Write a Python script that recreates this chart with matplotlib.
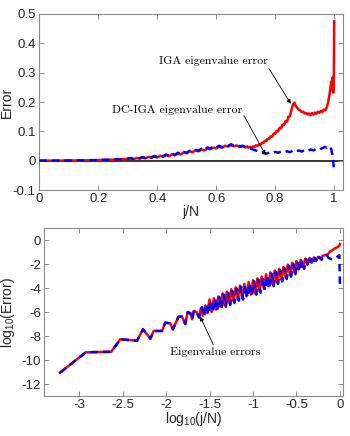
import numpy as np
import matplotlib
matplotlib.use("Agg")
import matplotlib.pyplot as plt

plt.rcParams['font.family'] = ['Liberation Sans', 'DejaVu Sans']
plt.rcParams['mathtext.fontset'] = 'custom'
plt.rcParams['mathtext.rm'] = 'Liberation Sans'
plt.rcParams['mathtext.it'] = 'Liberation Sans:italic'

# ---- top panel: error vs j/N ----
iga_x = [0.00, 0.05, 0.10, 0.15, 0.20, 0.22, 0.24, 0.26, 0.28, 0.30,
         0.31, 0.32, 0.33, 0.34, 0.35, 0.36, 0.37, 0.38, 0.39, 0.40,
         0.41, 0.42, 0.43, 0.44, 0.45, 0.46, 0.47, 0.48, 0.49, 0.50,
         0.51, 0.52, 0.53, 0.54, 0.55, 0.56, 0.57, 0.58, 0.59, 0.60,
         0.61, 0.62, 0.63, 0.64, 0.65, 0.66, 0.67, 0.68, 0.69, 0.70,
         0.705, 0.71, 0.715, 0.72, 0.725, 0.73, 0.735, 0.74, 0.745, 0.75,
         0.755, 0.76, 0.765, 0.77, 0.775, 0.78, 0.785, 0.79, 0.795, 0.80,
         0.805, 0.81, 0.815, 0.82, 0.825, 0.83, 0.835, 0.84, 0.845, 0.85,
         0.855, 0.86, 0.865, 0.87, 0.875, 0.88, 0.885, 0.89, 0.895, 0.90,
         0.905, 0.91, 0.915, 0.92, 0.925, 0.93, 0.935, 0.94, 0.945, 0.95,
         0.955, 0.96, 0.965, 0.97, 0.975, 0.98, 0.985, 0.99, 0.993, 0.995,
         0.997, 0.999, 1.0]
iga_err = [0.000, 0.0002, 0.0005, 0.001, 0.002, 0.0025, 0.003, 0.004, 0.005, 0.006,
           0.008, 0.005, 0.009, 0.007, 0.011, 0.008, 0.013, 0.010, 0.014, 0.011,
           0.017, 0.013, 0.019, 0.015, 0.022, 0.018, 0.025, 0.021, 0.028, 0.025,
           0.032, 0.029, 0.035, 0.032, 0.038, 0.035, 0.042, 0.039, 0.045, 0.042,
           0.048, 0.044, 0.051, 0.048, 0.053, 0.049, 0.052, 0.047, 0.049, 0.045,
           0.049, 0.044, 0.047, 0.045, 0.049, 0.047, 0.052, 0.050, 0.056, 0.054,
           0.061, 0.060, 0.068, 0.067, 0.075, 0.074, 0.083, 0.082, 0.092, 0.091,
           0.102, 0.100, 0.112, 0.110, 0.123, 0.121, 0.135, 0.133, 0.150, 0.152,
           0.172, 0.190, 0.198, 0.186, 0.180, 0.174, 0.171, 0.166, 0.167, 0.161,
           0.163, 0.157, 0.161, 0.155, 0.162, 0.157, 0.164, 0.160, 0.167, 0.163,
           0.170, 0.166, 0.174, 0.172, 0.182, 0.200, 0.230, 0.270, 0.240, 0.285,
           0.232, 0.290, 0.475]

dc_x = [0.00, 0.05, 0.10, 0.15, 0.20, 0.22, 0.24, 0.26, 0.28, 0.30,
        0.31, 0.32, 0.33, 0.34, 0.35, 0.36, 0.37, 0.38, 0.39, 0.40,
        0.41, 0.42, 0.43, 0.44, 0.45, 0.46, 0.47, 0.48, 0.49, 0.50,
        0.51, 0.52, 0.53, 0.54, 0.55, 0.56, 0.57, 0.58, 0.59, 0.60,
        0.61, 0.62, 0.63, 0.64, 0.65, 0.66, 0.67, 0.68, 0.69, 0.70,
        0.71, 0.72, 0.73, 0.74, 0.75, 0.76, 0.77, 0.78, 0.79, 0.80,
        0.81, 0.82, 0.83, 0.84, 0.85, 0.86, 0.87, 0.88, 0.89, 0.90,
        0.91, 0.92, 0.93, 0.94, 0.95, 0.96, 0.97, 0.975, 0.98, 0.985,
        0.99, 0.993, 0.996, 1.0]
dc_err = [0.000, 0.0002, 0.0005, 0.001, 0.002, 0.003, 0.003, 0.005, 0.005, 0.007,
          0.009, 0.006, 0.010, 0.008, 0.012, 0.009, 0.014, 0.011, 0.016, 0.013,
          0.019, 0.015, 0.021, 0.017, 0.024, 0.020, 0.027, 0.023, 0.030, 0.027,
          0.034, 0.031, 0.037, 0.034, 0.041, 0.037, 0.045, 0.041, 0.048, 0.044,
          0.051, 0.046, 0.054, 0.050, 0.056, 0.051, 0.055, 0.049, 0.051, 0.046,
          0.043, 0.040, 0.036, 0.033, 0.030, 0.026, 0.024, 0.028, 0.025, 0.030,
          0.027, 0.031, 0.028, 0.032, 0.029, 0.034, 0.030, 0.035, 0.031, 0.036,
          0.033, 0.038, 0.035, 0.041, 0.038, 0.043, 0.047, 0.044, 0.050, 0.045,
          0.040, 0.025, 0.005, -0.035]

# ---- bottom panel: log10(error) vs log10(j/N) ----
log_iga_x = [-3.22, -2.924, -2.63, -2.526, -2.334, -2.265, -2.18, -2.143, -2.047, -2.009,
             -1.952, -1.921, -1.856, -1.817, -1.78, -1.75, -1.72, -1.70, -1.68, -1.65,
             -1.62, -1.600, -1.575, -1.550, -1.525, -1.500, -1.475, -1.450, -1.425, -1.400,
             -1.375, -1.350, -1.325, -1.300, -1.275, -1.250, -1.225, -1.200, -1.175, -1.150,
             -1.125, -1.100, -1.075, -1.050, -1.025, -1.000, -0.975, -0.950, -0.925, -0.900,
             -0.875, -0.850, -0.825, -0.800, -0.775, -0.750, -0.725, -0.700, -0.675, -0.650,
             -0.625, -0.600, -0.575, -0.550, -0.525, -0.500, -0.475, -0.450, -0.425, -0.400,
             -0.375, -0.350, -0.325, -0.300, -0.275, -0.250, -0.225, -0.200, -0.170, -0.140,
             -0.115, -0.090, -0.057, -0.035, -0.020, -0.008, 0.0]
log_iga_err = [-11.06, -9.36, -9.31, -8.27, -8.39, -7.44, -8.22, -7.58, -7.58, -6.89,
               -6.94, -7.44, -6.39, -6.39, -7.00, -6.00, -6.10, -6.60, -5.90, -6.00,
               -6.45, -5.70, -6.30, -5.45, -6.10, -4.95, -6.00, -4.85, -5.80, -4.70,
               -5.55, -4.45, -5.45, -4.30, -5.25, -4.10, -5.10, -3.95, -4.95, -3.80,
               -4.85, -3.65, -4.70, -3.50, -4.55, -3.35, -4.45, -3.20, -4.25, -3.05,
               -4.05, -2.85, -3.85, -2.70, -3.70, -2.55, -3.50, -2.40, -3.30, -2.25,
               -3.10, -2.05, -2.90, -1.90, -2.70, -1.75, -2.45, -1.65, -2.25, -1.55,
               -2.05, -1.50, -1.90, -1.45, -1.75, -1.40, -1.55, -1.32, -1.25, -1.20,
               -0.97, -0.85, -0.69, -0.62, -0.56, -0.50, -0.33]

log_dc_x = [-3.22, -2.924, -2.63, -2.526, -2.334, -2.265, -2.18, -2.143, -2.047, -2.009,
            -1.952, -1.921, -1.856, -1.817, -1.78, -1.75, -1.72, -1.70, -1.68, -1.65,
            -1.62, -1.5875, -1.5625, -1.5375, -1.5125, -1.4875, -1.4625, -1.4375, -1.4125, -1.3875,
            -1.3625, -1.3375, -1.3125, -1.2875, -1.2625, -1.2375, -1.2125, -1.1875, -1.1625, -1.1375,
            -1.1125, -1.0875, -1.0625, -1.0375, -1.0125, -0.9875, -0.9625, -0.9375, -0.9125, -0.8875,
            -0.8625, -0.8375, -0.8125, -0.7875, -0.7625, -0.7375, -0.7125, -0.6875, -0.6625, -0.6375,
            -0.6125, -0.5875, -0.5625, -0.5375, -0.5125, -0.4875, -0.4625, -0.4375, -0.4125, -0.3875,
            -0.3625, -0.3375, -0.3125, -0.2875, -0.2625, -0.2375, -0.2125, -0.190, -0.170, -0.150,
            -0.130, -0.100, -0.076, -0.050, -0.030, -0.007, 0.0]
log_dc_err = [-11.06, -9.36, -9.31, -8.27, -8.39, -7.44, -8.22, -7.58, -7.58, -6.89,
              -6.94, -7.44, -6.39, -6.39, -7.00, -6.00, -6.10, -6.60, -5.90, -6.00,
              -6.45, -5.60, -6.35, -5.35, -6.20, -5.05, -6.05, -4.90, -5.90, -4.75,
              -5.70, -4.55, -5.55, -4.40, -5.40, -4.25, -5.25, -4.05, -5.05, -3.90,
              -4.95, -3.75, -4.80, -3.60, -4.65, -3.45, -4.55, -3.30, -4.40, -3.15,
              -4.20, -2.95, -4.00, -2.80, -3.85, -2.65, -3.65, -2.50, -3.45, -2.35,
              -3.25, -2.15, -3.05, -2.00, -2.85, -1.85, -2.60, -1.70, -2.40, -1.60,
              -2.20, -1.55, -2.00, -1.50, -1.85, -1.42, -1.65, -1.35, -1.30, -1.27,
              -1.50, -1.58, -1.61, -1.50, -1.39, -1.25, -3.90]

box_col = '0.55'
txt_col = '0.15'
serif = ['cmr10', 'DejaVu Serif']

def style_axes(ax):
    for s in ax.spines.values():
        s.set_color(box_col)
        s.set_linewidth(0.8)
    ax.tick_params(direction='in', length=3.5, width=0.7, color=box_col,
                   labelcolor=txt_col, labelsize=9.5, top=True, right=True, pad=2.5)

def arrow(ax, head, tail):
    ax.annotate('', xy=head, xytext=tail,
                arrowprops=dict(arrowstyle='-|>', color='k', lw=0.6,
                                mutation_scale=6, shrinkA=0, shrinkB=0))

fig = plt.figure(figsize=(3.5, 4.36), dpi=100)

# top panel
ax1 = fig.add_axes([0.1123, 0.5642, 0.8677, 0.4037])
ax1.axhline(0, color='k', lw=1.1, zorder=1)
ax1.plot(iga_x, iga_err, color='r', lw=1.8, zorder=2)
ax1.plot(dc_x, dc_err, color='b', lw=1.8, ls=(0, (3, 2)), zorder=3)
ax1.set_xlim(0, 1.03)
ax1.set_ylim(-0.1, 0.5)
ax1.set_xticks([0, 0.2, 0.4, 0.6, 0.8, 1.0])
ax1.set_xticklabels(['0', '0.2', '0.4', '0.6', '0.8', '1'])
ax1.set_yticks([-0.1, 0, 0.1, 0.2, 0.3, 0.4, 0.5])
ax1.set_yticklabels(['-0.1', '0', '0.1', '0.2', '0.3', '0.4', '0.5'])
ax1.set_xlabel('j/N', fontsize=10, color=txt_col)
ax1.set_ylabel('Error', fontsize=10, color=txt_col)
ax1.xaxis.set_label_coords(0.5, -0.085)
ax1.yaxis.set_label_coords(-0.084, 0.5)
style_axes(ax1)

ax1.text(0.591, 0.339, 'IGA eigenvalue error', ha='center', va='center',
         fontsize=8.5, family=serif)
arrow(ax1, (0.853, 0.194), (0.779, 0.314))
ax1.text(0.469, 0.174, 'DC-IGA eigenvalue error', ha='center', va='center',
         fontsize=8.5, family=serif)
arrow(ax1, (0.767, 0.0205), (0.694, 0.154))

# bottom panel
ax2 = fig.add_axes([0.1266, 0.0917, 0.8534, 0.3853])
ax2.plot(log_iga_x, log_iga_err, color='r', lw=1.8, zorder=2)
ax2.plot(log_dc_x, log_dc_err, color='b', lw=1.8, ls=(0, (3, 2)), zorder=3)
ax2.set_xlim(-3.4, 0.035)
ax2.set_ylim(-13, 1)
ax2.set_xticks([-3, -2.5, -2, -1.5, -1, -0.5, 0])
ax2.set_xticklabels(['-3', '-2.5', '-2', '-1.5', '-1', '-0.5', '0'])
ax2.set_yticks([-12, -10, -8, -6, -4, -2, 0])
ax2.set_yticklabels(['-12', '-10', '-8', '-6', '-4', '-2', '0'])
ax2.set_xlabel(r'log$_{10}$(j/N)', fontsize=10, color=txt_col)
ax2.set_ylabel(r'log$_{10}$(Error)', fontsize=10, color=txt_col)
ax2.xaxis.set_label_coords(0.5, -0.085)
ax2.yaxis.set_label_coords(-0.09, 0.5)
style_axes(ax2)

arrow(ax2, (-1.607, -6.39), (-1.455, -8.75))
ax2.text(-1.435, -9.31, 'Eigenvalue errors', ha='center', va='center',
         fontsize=8.5, family=serif)

fig.savefig('out.png', dpi=100)
